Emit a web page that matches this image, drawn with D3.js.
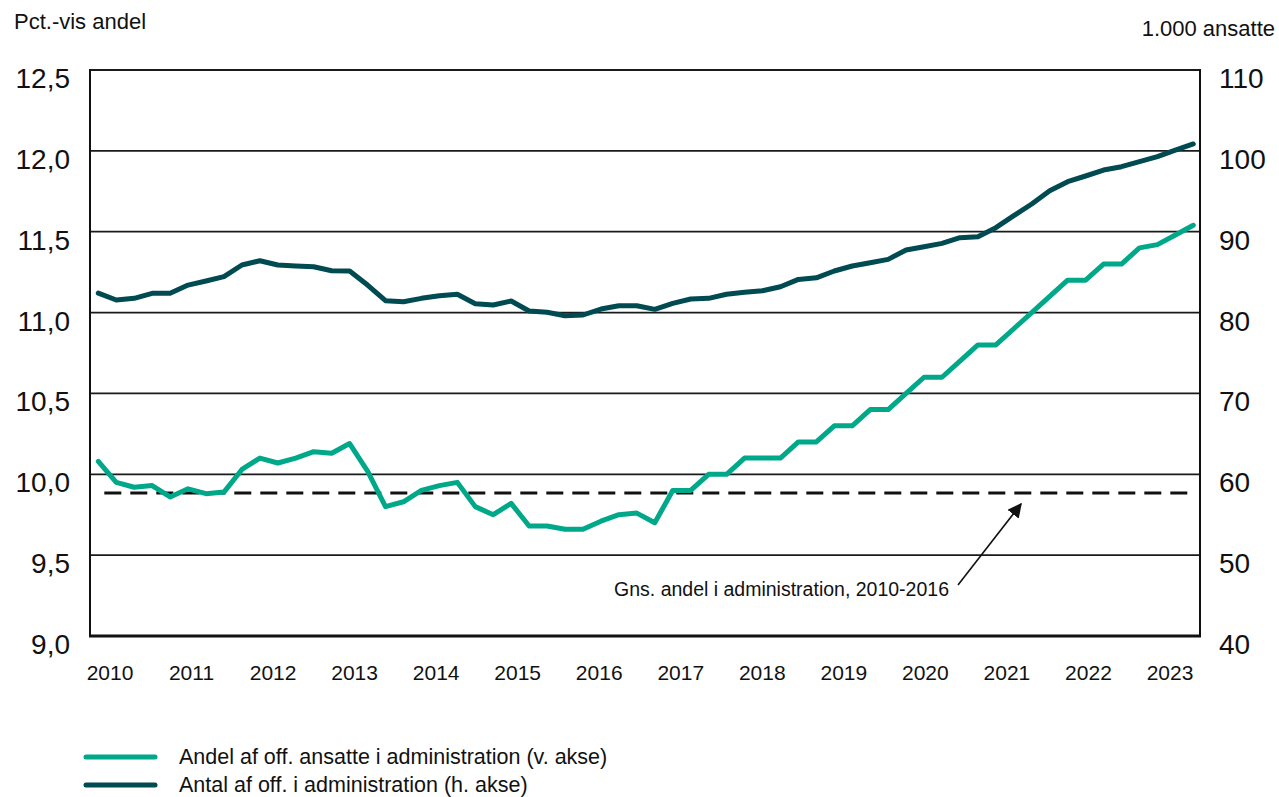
<!DOCTYPE html>
<html>
<head>
<meta charset="utf-8">
<script src="https://cdn.jsdelivr.net/npm/d3@7"></script>
<style>
  body { margin: 0; background: #fff; }
  svg text { font-family: "Liberation Sans", Arial, sans-serif; fill: #111; }
</style>
</head>
<body>
<svg id="chart" width="1279" height="797"></svg>
<script>
// kvartalsvise observationer (62 punkter)
const andel = [10.08, 9.95, 9.92, 9.93, 9.86, 9.91, 9.88, 9.89, 10.03, 10.10,
  10.07, 10.10, 10.14, 10.13, 10.19, 10.02, 9.80, 9.83, 9.90, 9.93,
  9.95, 9.80, 9.75, 9.82, 9.68, 9.68, 9.66, 9.66, 9.71, 9.75,
  9.76, 9.70, 9.90, 9.90, 10.0, 10.0, 10.1, 10.1, 10.1, 10.2,
  10.2, 10.3, 10.3, 10.4, 10.4, 10.5, 10.6, 10.6, 10.7, 10.8,
  10.8, 10.9, 11.0, 11.1, 11.2, 11.2, 11.3, 11.3, 11.4, 11.42,
  11.48, 11.54];
const antal = [82.4, 81.55, 81.76, 82.38, 82.38, 83.4, 83.9, 84.44, 85.88, 86.41,
  85.88, 85.76, 85.67, 85.18, 85.14, 83.4, 81.47, 81.34, 81.76, 82.08,
  82.26, 81.1, 80.93, 81.43, 80.19, 80.03, 79.61, 79.7, 80.44, 80.85,
  80.85, 80.4, 81.14, 81.68, 81.76, 82.26, 82.5, 82.7, 83.2, 84.1,
  84.3, 85.14, 85.76, 86.17, 86.58, 87.74, 88.15, 88.56, 89.26, 89.38,
  90.5, 91.98, 93.43, 95.07, 96.19, 96.89, 97.63, 98.04, 98.66, 99.28,
  100.1, 100.85];
const gnsAndel = 9.885;
const years = [2010, 2011, 2012, 2013, 2014, 2015, 2016, 2017, 2018, 2019, 2020, 2021, 2022, 2023];
const leftTicks = [9.0, 9.5, 10.0, 10.5, 11.0, 11.5, 12.0, 12.5];
const rightTicks = [40, 50, 60, 70, 80, 90, 100, 110];
const legendLabels = ["Andel af off. ansatte i administration (v. akse)", "Antal af off. i administration (h. akse)"];

const teal = "#00a88a", dark = "#004a52";
const svg = d3.select("#chart");
const L = 90, R = 1200, T = 70, B = 636;

let x = d3.scaleLinear().domain([0, andel.length - 1]).range([98.3, 1193.3]);
let xYear = d3.scaleLinear().domain([2010, 2023]).range([110, 1170]);
let yL = d3.scaleLinear().domain([9, 12.5]).range([B, T]);
let yR = d3.scaleLinear().domain([40, 110]).range([B, T]);

let fmt = d => d3.format(".1f")(d).replace(".", ",");

// gitterlinjer
svg.append("g").selectAll("line").data(leftTicks.slice(1)).join("line")
  .attr("x1", L).attr("x2", R)
  .attr("y1", d => yL(d)).attr("y2", d => yL(d))
  .attr("stroke", "#1a1a1a").attr("stroke-width", 1.8);

svg.append("line").attr("x1", L).attr("x2", L).attr("y1", T - 1).attr("y2", B + 1)
  .attr("stroke", "#111").attr("stroke-width", 2);
svg.append("line").attr("x1", R).attr("x2", R).attr("y1", T - 1).attr("y2", B + 1)
  .attr("stroke", "#111").attr("stroke-width", 2);
svg.append("line").attr("x1", L - 1).attr("x2", R + 1).attr("y1", B).attr("y2", B)
  .attr("stroke", "#111").attr("stroke-width", 3);

// akseetiketter
svg.append("g").selectAll("text").data(leftTicks).join("text")
  .attr("x", 70).attr("y", d => yL(d) + 18)
  .attr("text-anchor", "end").attr("font-size", 28)
  .text(fmt);
svg.append("g").selectAll("text").data(rightTicks).join("text")
  .attr("x", 1219).attr("y", d => yR(d) + 18)
  .attr("text-anchor", "start").attr("font-size", 28)
  .text(d => d);
svg.append("g").selectAll("text").data(years).join("text")
  .attr("x", d => xYear(d)).attr("y", 680)
  .attr("text-anchor", "middle").attr("font-size", 21)
  .text(d => d);

svg.append("text").attr("x", 14).attr("y", 29).attr("font-size", 22).text("Pct.-vis andel");
svg.append("text").attr("x", 1275).attr("y", 36).attr("font-size", 22)
  .attr("text-anchor", "end").text("1.000 ansatte");

// gennemsnit
svg.append("line")
  .attr("x1", x(0) + 6).attr("x2", x(andel.length - 1) - 3)
  .attr("y1", yL(gnsAndel)).attr("y2", yL(gnsAndel))
  .attr("stroke", "#111").attr("stroke-width", 3)
  .attr("stroke-dasharray", "17,9");

// serier
let lineL = d3.line().x((d, i) => x(i)).y(d => yL(d));
let lineR = d3.line().x((d, i) => x(i)).y(d => yR(d));
svg.append("path").datum(antal).attr("d", lineR)
  .attr("fill", "none").attr("stroke", dark).attr("stroke-width", 5)
  .attr("stroke-linejoin", "round").attr("stroke-linecap", "round");
svg.append("path").datum(andel).attr("d", lineL)
  .attr("fill", "none").attr("stroke", teal).attr("stroke-width", 5)
  .attr("stroke-linejoin", "round").attr("stroke-linecap", "round");

// annotation
svg.append("defs").append("marker").attr("id", "arrow")
  .attr("viewBox", "0 0 10 10").attr("refX", 9).attr("refY", 5)
  .attr("markerWidth", 9).attr("markerHeight", 9).attr("orient", "auto")
  .append("path").attr("d", "M0,0 L10,5 L0,10 Z").attr("fill", "#111");
svg.append("line").attr("x1", 958).attr("y1", 585).attr("x2", 1021).attr("y2", 504)
  .attr("stroke", "#111").attr("stroke-width", 1.6).attr("marker-end", "url(#arrow)");
svg.append("text").attr("x", 949).attr("y", 596).attr("text-anchor", "end")
  .attr("font-size", 19.5).text("Gns. andel i administration, 2010-2016");

// legende
let leg = svg.append("g").selectAll("g").data(legendLabels).join("g")
  .attr("transform", (d, i) => `translate(0, ${757 + i * 28})`);
leg.append("line").attr("x1", 86).attr("x2", 155)
  .attr("stroke", (d, i) => i === 0 ? teal : dark)
  .attr("stroke-width", 5).attr("stroke-linecap", "round");
leg.append("text").attr("x", 179).attr("y", 7).attr("font-size", 21.5).text(d => d);
</script>
</body>
</html>
